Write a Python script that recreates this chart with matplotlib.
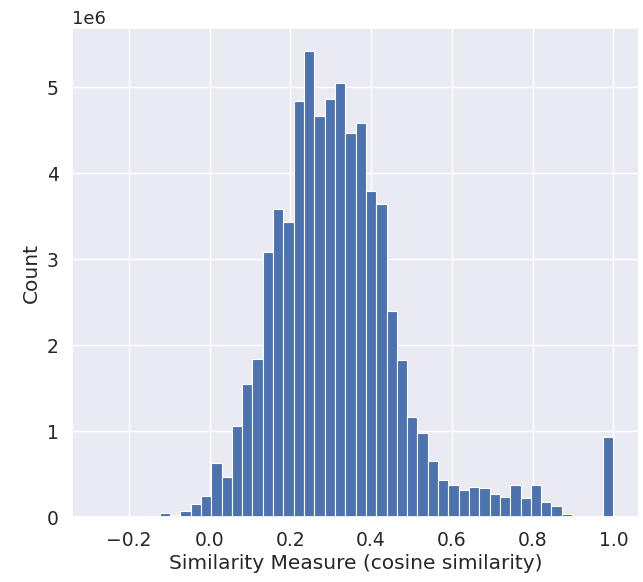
import numpy as np
import matplotlib
matplotlib.use("Agg")
import matplotlib.pyplot as plt
import seaborn as sns

# Histogram: 50 equal bins from -0.277 to 1.0 (counts in millions)
bin_min = -0.277
bin_max = 1.0
n_bins = 50
counts_millions = [
    0.0005, 0.001, 0.002, 0.004, 0.008, 0.015,   # bins 0-5 (near invisible)
    0.05, 0.03, 0.08, 0.15, 0.25, 0.635, 0.475, 1.06, 1.55, 1.84,
    3.09, 3.58, 3.43, 4.84, 5.42, 4.67, 4.87, 5.05, 4.47, 4.58,
    3.79, 3.64, 2.40, 1.83, 1.17, 0.98, 0.65, 0.44, 0.38, 0.32,
    0.35, 0.34, 0.27, 0.24, 0.38, 0.22, 0.38, 0.18, 0.13, 0.04,
    0.0, 0.0, 0.0, 0.94,
]
x_label = "Similarity Measure (cosine similarity)"
y_label = "Count"

sns.set_theme(style="darkgrid")
plt.rcParams['font.family'] = ['DejaVu Sans']

edges = np.linspace(bin_min, bin_max, n_bins + 1)
centers = (edges[:-1] + edges[1:]) / 2
weights = np.array(counts_millions) * 1e6

fig = plt.figure(figsize=(6.43, 5.82), dpi=100)
ax = fig.add_axes([0.112, 0.111, 0.882, 0.841])
ax.hist(centers, bins=edges, weights=weights, color="#4C72B0", edgecolor="white", linewidth=0.8)
ax.set_xlabel(x_label, fontsize=14.5, labelpad=3)
ax.set_ylabel(y_label, fontsize=14.5)
ax.tick_params(labelsize=13.5)
ax.yaxis.get_offset_text().set_fontsize(13)

fig.savefig("out.png", dpi=100)
